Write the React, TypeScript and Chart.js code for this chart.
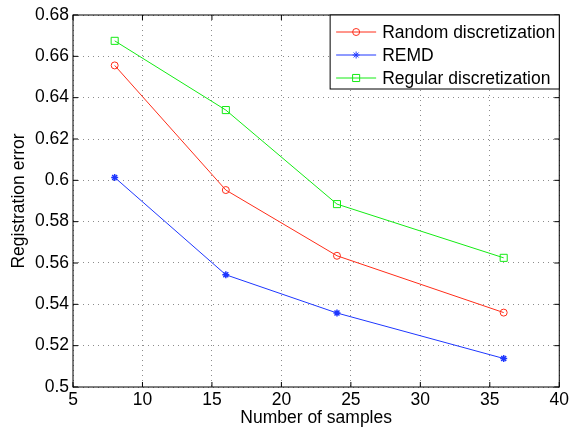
import React, { useEffect, useRef } from 'react';
import { Chart, registerables } from 'chart.js';
import { drawPoint } from 'chart.js/helpers';

Chart.register(...registerables);

const xValues = [8, 16, 24, 36];
const randomDisc = [0.6556, 0.5953, 0.5635, 0.5360];
const remd = [0.6014, 0.5543, 0.5358, 0.5138];
const regularDisc = [0.6675, 0.6340, 0.5885, 0.5625];
const seriesNames = ['Random discretization', 'REMD', 'Regular discretization'];
const xTitle = 'Number of samples';
const yTitle = 'Registration error';

const FONT = "'Liberation Sans', Arial, Helvetica, sans-serif";
const FS = 17.5;

const boxPlugin = {
  id: 'matlabBox',
  afterDraw(chart: any) {
    const { ctx, chartArea } = chart;
    const { left, right, top, bottom } = chartArea;
    const xs = chart.scales.x;
    const ys = chart.scales.y;
    ctx.save();
    ctx.setLineDash([]);
    ctx.strokeStyle = '#000';
    ctx.lineWidth = 1;
    ctx.strokeRect(left, top, right - left, bottom - top);
    const tl = 5;
    ctx.beginPath();
    xs.ticks.forEach((t: any) => {
      const p = xs.getPixelForValue(t.value);
      ctx.moveTo(p, bottom);
      ctx.lineTo(p, bottom - tl);
      ctx.moveTo(p, top);
      ctx.lineTo(p, top + tl);
    });
    ys.ticks.forEach((t: any) => {
      const p = ys.getPixelForValue(t.value);
      ctx.moveTo(left, p);
      ctx.lineTo(left + tl, p);
      ctx.moveTo(right, p);
      ctx.lineTo(right - tl, p);
    });
    ctx.stroke();

    // legend
    ctx.font = `${FS}px ${FONT}`;
    const datasets = chart.data.datasets;
    let maxW = 0;
    datasets.forEach((d: any) => {
      maxW = Math.max(maxW, ctx.measureText(d.label).width);
    });
    const boxW = 52 + maxW + 4;
    const boxH = 74;
    const bx = right - boxW;
    const by = top;
    ctx.fillStyle = '#fff';
    ctx.fillRect(bx, by, boxW, boxH);
    ctx.strokeStyle = '#000';
    ctx.strokeRect(bx, by, boxW, boxH);
    datasets.forEach((d: any, i: number) => {
      const cy = by + 17 + i * 23;
      ctx.strokeStyle = d.borderColor;
      ctx.lineWidth = 1;
      ctx.beginPath();
      ctx.moveTo(bx + 6, cy);
      ctx.lineTo(bx + 46, cy);
      ctx.stroke();
      ctx.fillStyle = d.pointBackgroundColor;
      ctx.strokeStyle = d.borderColor;
      drawPoint(ctx, {
        pointStyle: d.pointStyle,
        radius: d.pointRadius,
        rotation: 0,
        borderWidth: 1,
      } as any, bx + 26, cy);
      ctx.fillStyle = '#000';
      ctx.textBaseline = 'middle';
      ctx.textAlign = 'left';
      ctx.fillText(d.label, bx + 52, cy + 1);
    });
    ctx.restore();
  },
};

export default function App() {
  const ref = useRef<HTMLCanvasElement | null>(null);
  useEffect(() => {
    document.body.style.margin = '0';
    const canvas = ref.current;
    if (!canvas) return;
    const mk = (vals: number[]) => xValues.map((x, i) => ({ x, y: vals[i] }));
    const chart = new Chart(canvas, {
      type: 'line',
      data: {
        datasets: [
          {
            label: seriesNames[0],
            data: mk(randomDisc),
            borderColor: 'rgb(255,45,25)',
            backgroundColor: 'rgb(255,45,25)',
            pointBackgroundColor: 'rgba(0,0,0,0)',
            pointBorderColor: 'rgb(255,45,25)',
            pointStyle: 'circle',
            pointRadius: 3.5,
            pointBorderWidth: 1,
            borderWidth: 1,
          },
          {
            label: seriesNames[1],
            data: mk(remd),
            borderColor: 'rgb(30,55,255)',
            backgroundColor: 'rgb(30,55,255)',
            pointBackgroundColor: 'rgb(30,55,255)',
            pointBorderColor: 'rgb(30,55,255)',
            pointStyle: 'star',
            pointRadius: 3.5,
            pointBorderWidth: 1.5,
            borderWidth: 1,
          },
          {
            label: seriesNames[2],
            data: mk(regularDisc),
            borderColor: 'rgb(20,235,20)',
            backgroundColor: 'rgb(20,235,20)',
            pointBackgroundColor: 'rgba(0,0,0,0)',
            pointBorderColor: 'rgb(20,235,20)',
            pointStyle: 'rect',
            pointRadius: 5,
            pointBorderWidth: 1,
            borderWidth: 1,
          },
        ] as any,
      },
      options: {
        animation: false,
        responsive: false,
        devicePixelRatio: 1,
        layout: { padding: { left: 0, right: 11, top: 15, bottom: 0 } },
        plugins: { legend: { display: false }, tooltip: { enabled: false } },
        scales: {
          x: {
            type: 'linear',
            min: 5,
            max: 40,
            ticks: {
              stepSize: 5,
              color: '#000',
              padding: 3,
              maxRotation: 0,
              font: { family: FONT, size: FS },
            },
            grid: { color: 'rgba(0,0,0,0.45)', drawTicks: false, lineWidth: 1 },
            border: { display: false, dash: [1, 4] },
            title: {
              display: true,
              text: xTitle,
              color: '#000',
              font: { family: FONT, size: FS },
              padding: { top: 0, bottom: 2 },
            },
            afterFit: (s: any) => {
              s.height = 44;
            },
          },
          y: {
            type: 'linear',
            min: 0.5,
            max: 0.68,
            ticks: {
              stepSize: 0.02,
              color: '#000',
              padding: 4,
              font: { family: FONT, size: FS },
              callback: (v: any) => String(Number(Number(v).toFixed(2))),
            },
            grid: { color: 'rgba(0,0,0,0.45)', drawTicks: false, lineWidth: 1 },
            border: { display: false, dash: [1, 4] },
            title: {
              display: true,
              text: yTitle,
              color: '#000',
              font: { family: FONT, size: FS },
              padding: { top: 9, bottom: 0 },
            },
            afterFit: (s: any) => {
              s.width = 73;
            },
          },
        },
      } as any,
      plugins: [boxPlugin],
    });
    return () => chart.destroy();
  }, []);
  return (
    <div style={{ width: 572, height: 431 }}>
      <canvas ref={ref} width={572} height={431} style={{ display: 'block' }} />
    </div>
  );
}
